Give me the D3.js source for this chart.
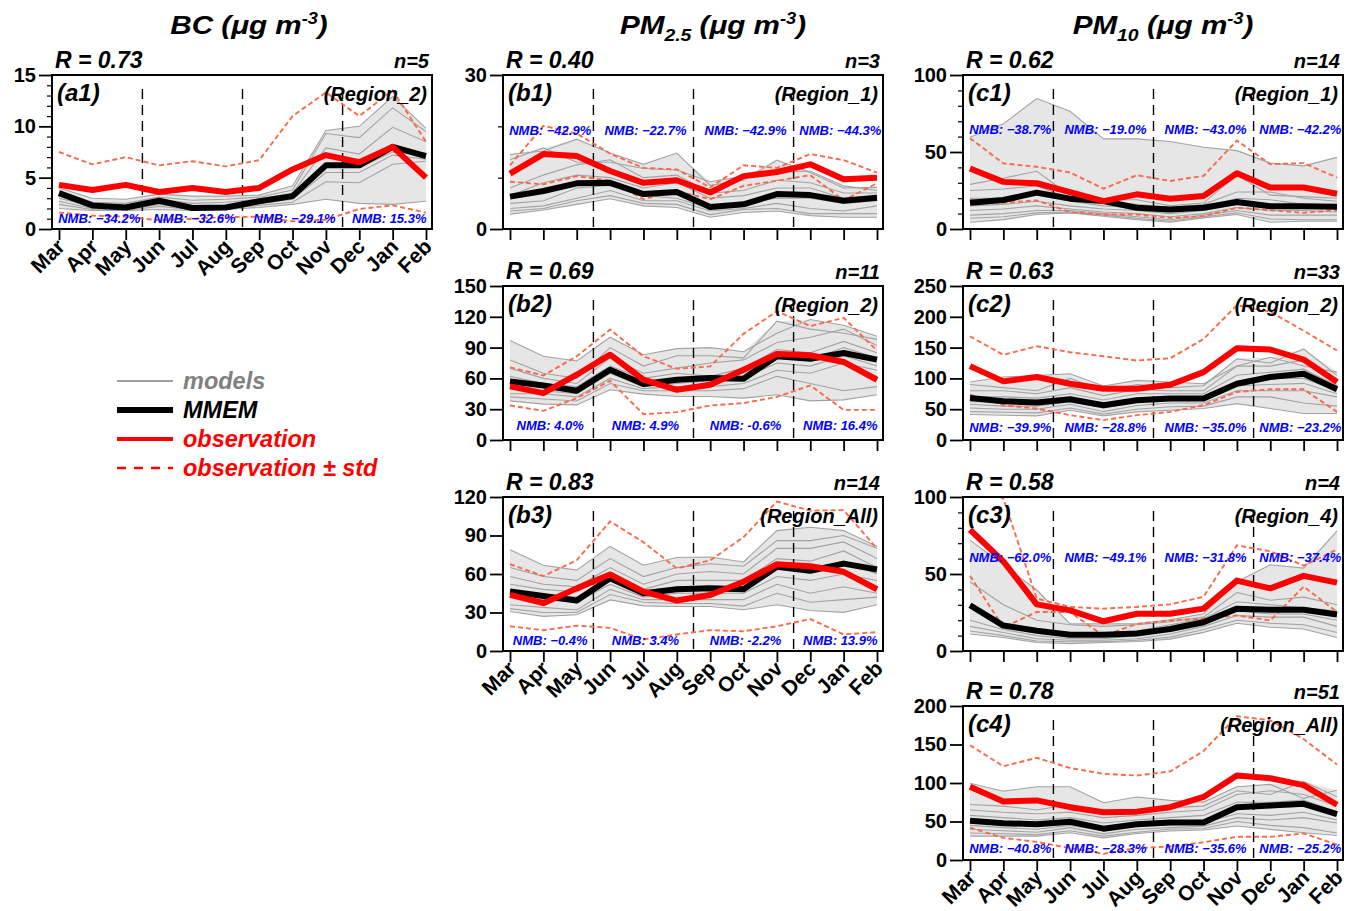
<!DOCTYPE html>
<html><head><meta charset="utf-8">
<script src="https://cdn.jsdelivr.net/npm/d3@7"></script>
<style>body{margin:0;background:#fff}svg{display:block}</style>
</head><body>
<svg id="chart" width="1354" height="911"></svg>
<script>
const months = ["Mar","Apr","May","Jun","Jul","Aug","Sep","Oct","Nov","Dec","Jan","Feb"];

// ---------- (a1) BC Region_2 ----------
const a1Obs  = [4.3,3.8,4.3,3.6,4.0,3.6,4.0,5.8,7.2,6.5,8.0,5.0];
const a1Up   = [7.5,6.3,7.0,6.2,6.6,6.1,6.7,11.0,13.3,11.0,13.5,8.5];
const a1Lo   = [1.6,1.3,1.2,0.85,1.0,1.15,1.2,0.75,0.9,1.95,2.3,1.6];
const a1Mmem = [3.5,2.3,2.1,2.75,2.05,2.1,2.7,3.2,6.2,6.2,8.0,7.1];
const a1Models = [
  [4.0,3.0,2.9,3.4,3.2,3.2,3.3,4.2,9.6,10.0,12.9,9.8],
  [3.7,2.6,2.5,3.1,2.8,2.9,3.1,3.8,9.3,8.9,11.8,9.5],
  [3.4,2.4,2.2,2.9,2.5,2.6,2.9,3.5,7.9,7.3,9.9,8.5],
  [3.0,2.2,2.0,2.6,2.2,2.3,2.6,3.2,6.2,6.0,7.5,7.4],
  [2.7,2.0,1.9,2.4,2.0,2.1,2.5,2.9,5.5,5.5,7.2,6.8],
  [2.4,1.9,1.8,2.2,1.9,2.0,2.3,2.6,4.6,4.5,6.3,6.6],
  [2.0,1.8,1.8,1.9,1.8,1.9,2.1,2.4,2.9,2.5,2.4,2.7]
];
const a1Nmb = ["NMB: \u221234.2%","NMB: \u221232.6%","NMB: \u221229.1%","NMB: 15.3%"];

// ---------- (b1) PM2.5 Region_1 ----------
const b1Obs  = [10.8,14.6,14.2,11.3,9.0,9.5,7.1,10.3,11.1,12.6,9.7,10.0];
const b1Up   = [12.4,20.1,18.6,14.7,11.9,11.6,8.1,12.4,11.9,14.6,13.4,11.0];
const b1Lo   = [9.2,8.7,10.3,9.4,5.8,7.4,5.8,8.4,9.4,10.5,5.6,8.9];
const b1Mmem = [6.3,7.4,8.9,9.0,6.8,7.2,4.3,4.8,6.8,6.6,5.5,6.1];
const b1Models = [
  [14.5,15.2,17.5,14.8,12.6,14.8,8.5,9.5,13.4,11.0,8.0,8.1],
  [13.5,15.8,13.0,13.0,11.8,11.5,9.2,10.3,11.0,11.3,8.4,7.5],
  [8.0,10.5,12.5,13.5,10.0,10.5,7.0,7.5,9.5,9.0,7.0,7.0],
  [6.5,9.0,10.5,10.0,8.0,9.0,6.0,6.5,8.0,8.0,6.0,6.5],
  [5.0,5.5,8.0,8.5,6.5,6.0,4.0,5.0,6.0,6.0,5.0,5.5],
  [4.0,4.5,6.0,7.5,5.5,5.5,3.5,4.0,5.0,4.0,3.5,4.5],
  [3.5,4.0,5.5,6.5,5.0,4.8,2.8,3.8,4.0,3.0,3.0,3.0],
  [2.9,3.7,4.8,5.9,4.5,4.2,2.3,3.2,3.5,2.6,2.3,2.3]
];
const b1Nmb = ["NMB: \u221242.9%","NMB: \u221222.7%","NMB: \u221242.9%","NMB: \u221244.3%"];

// ---------- (b2) PM2.5 Region_2 ----------
const b2Obs  = [52.2,45.6,63.6,83.1,58.7,48.9,53.8,68.5,83.8,82.5,76.0,58.7];
const b2Up   = [70.8,62.9,81.5,107.6,81.5,69.4,71.7,103.4,125.5,110.9,119.0,87.1];
const b2Lo   = [33.6,28.4,40.8,57.7,25.1,27.1,33.6,35.9,42.0,53.1,29.3,29.3];
const b2Mmem = [57.1,53.1,47.9,68.5,54.5,58.7,60.3,59.7,81.5,79.2,84.8,78.3];
const b2Models = [
  [96.8,81.5,77.0,100.1,83.0,89.0,90.0,86.0,104.0,117.4,111.8,101.0],
  [78.0,65.0,60.0,90.0,72.0,82.0,82.0,80.0,115.7,108.0,104.0,98.0],
  [70.0,60.0,55.0,80.0,65.0,70.0,75.0,78.0,95.0,100.0,108.0,92.0],
  [62.0,55.0,52.0,72.0,60.0,65.0,62.0,70.0,88.0,85.0,96.0,85.0],
  [55.0,52.0,48.0,68.0,56.0,60.0,60.0,65.0,80.0,78.0,90.0,80.0],
  [50.0,48.0,45.0,65.0,52.0,55.0,58.0,60.0,75.0,72.0,82.0,72.0],
  [45.0,45.0,42.0,60.0,50.0,52.0,52.0,55.0,68.0,65.0,75.0,68.0],
  [42.0,40.0,38.0,55.0,48.0,48.0,48.0,50.0,62.0,55.0,48.0,52.0],
  [38.1,34.9,34.2,48.9,44.7,42.4,42.4,40.8,44.0,38.1,39.1,44.0]
];
const b2Nmb = ["NMB: 4.0%","NMB: 4.9%","NMB: -0.6%","NMB: 16.4%"];

// ---------- (b3) PM2.5 Region_All ----------
const b3Obs  = [43.7,37.3,48.8,59.6,46.3,39.3,43.7,54.0,67.6,66.1,61.7,48.1];
const b3Up   = [67.6,58.4,70.7,101.0,84.8,64.3,70.7,88.7,116.5,109.3,109.8,79.7];
const b3Lo   = [19.3,16.2,19.8,18.0,9.0,12.9,16.2,15.4,19.3,24.9,12.9,14.7];
const b3Mmem = [46.3,42.9,39.3,56.6,45.0,48.1,48.8,48.1,65.6,62.5,68.1,63.5];
const b3Models = [
  [78.9,66.8,63.0,81.5,66.8,72.8,73.3,69.4,93.8,96.4,93.8,81.5],
  [65.0,58.0,55.0,72.0,58.0,65.0,68.0,66.0,86.0,86.0,90.0,80.0],
  [58.0,52.0,50.0,65.0,52.0,60.0,62.0,60.0,80.0,80.0,85.0,72.0],
  [52.0,48.0,46.0,60.0,48.0,55.0,55.0,55.0,72.0,70.0,78.0,65.0],
  [46.0,44.0,42.0,56.0,45.0,50.0,50.0,50.0,65.0,62.0,70.0,60.0],
  [42.0,40.0,38.0,52.0,42.0,45.0,45.0,45.0,58.0,55.0,60.0,55.0],
  [36.0,34.0,32.0,48.0,40.0,40.0,40.0,40.0,52.0,45.0,50.0,45.0],
  [33.0,30.0,30.0,44.0,38.0,37.0,37.0,35.0,45.0,38.0,40.0,42.0],
  [30.8,27.0,28.3,39.8,35.2,34.7,34.7,32.1,36.0,31.6,30.1,36.0]
];
const b3Nmb = ["NMB: \u22120.4%","NMB: 3.4%","NMB: -2.2%","NMB: 13.9%"];

// ---------- (c1) PM10 Region_1 ----------
const c1Obs  = [39.3,30.6,29.7,24.0,18.1,22.5,19.7,21.4,36.2,26.9,26.9,22.9];
const c1Up   = [59.0,42.6,40.4,36.7,26.2,34.9,31.2,34.5,57.4,42.1,42.8,33.4];
const c1Lo   = [18.8,17.0,18.6,10.9,9.4,9.4,7.2,8.3,13.8,12.2,10.5,12.2];
const c1Mmem = [17.0,18.8,23.6,19.7,18.1,13.8,12.7,13.8,17.5,14.8,14.8,14.4];
const c1Models = [
  [59.6,68.3,84.7,76.4,58.5,58.5,56.8,53.1,50.9,42.8,41.0,46.5],
  [29.0,33.0,37.5,22.0,19.0,19.0,15.0,17.0,35.0,22.0,21.0,20.0],
  [25.0,26.0,28.0,20.0,17.0,16.0,14.0,16.0,24.0,24.0,20.0,18.0],
  [20.0,20.0,22.0,18.0,15.0,14.0,12.0,14.0,20.0,19.0,16.0,15.0],
  [15.0,16.0,18.0,15.0,13.0,12.0,10.0,12.0,16.0,15.0,14.0,13.0],
  [12.0,13.0,15.0,13.0,11.0,10.0,8.0,10.0,14.0,12.0,12.0,11.0],
  [9.0,10.0,12.0,12.0,10.0,8.0,6.0,9.0,12.0,9.0,9.0,9.0],
  [7.0,8.0,10.5,11.0,9.0,7.0,5.0,8.0,10.5,6.5,6.0,6.0],
  [4.4,6.1,9.4,10.5,8.3,6.1,4.4,7.2,9.4,4.4,5.0,5.0]
];
const c1Nmb = ["NMB: \u221238.7%","NMB: \u221219.0%","NMB: \u221243.0%","NMB: \u221242.2%"];

// ---------- (c2) PM10 Region_2 ----------
const c2Obs  = [119.9,95.2,102.2,91.4,83.3,83.3,89.8,110.2,148.9,146.8,130.6,94.1];
const c2Up   = [168.3,138.2,152.2,142.5,136.0,129.0,132.8,164.0,218.8,208.1,177.4,145.2];
const c2Lo   = [73.7,56.5,51.1,40.3,32.3,40.3,45.7,56.5,78.0,82.3,82.3,45.7];
const c2Mmem = [68.3,62.9,60.8,66.1,56.5,64.5,67.2,67.2,91.4,102.2,107.5,82.3];
const c2Models = [
  [94.1,102.2,104.8,107.5,87.6,96.8,94.1,91.4,120.0,134.4,120.0,110.2],
  [90.0,85.0,80.0,100.0,80.0,90.0,85.0,88.0,131.7,125.0,147.8,105.0],
  [80.0,80.0,75.0,85.0,72.0,82.0,80.0,80.0,120.0,120.0,130.0,95.0],
  [70.0,70.0,68.0,75.0,65.0,75.0,75.0,75.0,105.0,110.0,115.0,88.0],
  [62.0,62.0,60.0,68.0,58.0,68.0,70.0,70.0,95.0,100.0,100.0,80.0],
  [58.0,55.0,55.0,62.0,52.0,62.0,65.0,65.0,88.0,90.0,92.0,75.0],
  [52.0,50.0,50.0,58.0,46.0,56.0,60.0,60.0,80.0,80.0,80.0,70.0],
  [46.0,45.0,44.0,52.0,42.0,50.0,54.0,55.0,70.0,70.0,60.0,55.0],
  [41.4,40.3,39.2,48.4,39.2,45.7,48.4,51.1,59.1,51.1,43.0,43.0]
];
const c2Nmb = ["NMB: \u221239.9%","NMB: \u221228.8%","NMB: \u221235.0%","NMB: \u221223.2%"];

// ---------- (c3) PM10 Region_4 ----------
const c3Obs  = [78.7,58.2,30.3,26.4,19.3,24.2,24.2,27.5,45.7,40.7,48.8,44.4];
const c3Up   = [108.0,99.0,34.1,28.6,27.5,28.6,30.3,35.2,68.6,64.8,55.4,65.9];
const c3Lo   = [48.8,15.4,25.3,25.3,9.9,17.6,19.8,20.9,23.1,19.8,41.8,25.3];
const c3Mmem = [29.7,16.5,13.2,10.5,10.5,11.4,14.3,18.7,27.5,26.8,26.8,23.7];
const c3Models = [
  [72.0,56.0,39.6,17.6,17.6,17.6,20.2,24.2,45.0,56.0,53.8,78.0],
  [45.0,30.0,20.0,17.0,16.0,17.0,19.0,22.0,38.0,33.0,35.0,30.0],
  [30.0,17.0,14.0,12.0,11.0,13.0,17.0,21.0,32.0,30.0,28.0,26.0],
  [20.0,14.0,10.0,8.0,8.0,10.0,14.0,19.0,26.0,24.0,24.0,20.0],
  [16.0,12.0,8.0,7.0,7.0,8.0,11.0,16.0,23.0,22.0,22.0,16.0],
  [13.0,10.0,6.5,6.0,6.0,7.0,9.0,14.0,20.0,18.0,17.0,12.0],
  [11.0,8.8,5.5,4.8,5.5,6.2,7.7,12.1,18.0,15.4,14.3,8.8]
];
const c3Nmb = ["NMB: \u221262.0%","NMB: \u221249.1%","NMB: \u221231.8%","NMB: \u221237.4%"];

// ---------- (c4) PM10 Region_All ----------
const c4Obs  = [95.1,76.1,77.4,68.6,61.9,62.8,68.6,81.9,109.7,106.2,97.3,71.7];
const c4Up   = [149.1,121.7,132.7,119.5,111.9,109.7,115.0,141.6,186.7,181.4,157.1,123.9];
const c4Lo   = [42.0,28.8,23.5,15.5,8.0,15.5,17.7,23.0,30.1,30.1,34.5,19.9];
const c4Mmem = [50.9,47.8,46.5,49.6,40.7,46.5,48.7,48.7,68.6,70.8,73.0,59.7];
const c4Models = [
  [99.6,89.4,95.1,95.1,74.3,81.9,77.4,75.2,95.1,98.2,80.0,90.7],
  [72.0,70.0,65.0,72.0,60.0,65.0,68.0,70.0,90.0,85.0,101.8,82.0],
  [65.0,62.0,60.0,62.0,55.0,58.0,62.0,65.0,85.0,90.0,85.0,70.0],
  [58.0,55.0,52.0,55.0,48.0,52.0,55.0,58.0,75.0,75.0,78.0,62.0],
  [50.0,48.0,45.0,50.0,42.0,48.0,50.0,52.0,68.0,68.0,70.0,58.0],
  [45.0,42.0,40.0,45.0,38.0,44.0,46.0,48.0,60.0,58.0,62.0,52.0],
  [40.0,38.0,36.0,42.0,34.0,40.0,42.0,44.0,55.0,52.0,55.0,48.0],
  [35.0,34.0,33.0,38.0,31.0,36.0,40.0,41.0,50.0,45.0,42.0,35.0],
  [31.0,31.0,31.0,35.4,28.8,34.5,37.6,38.9,44.2,39.8,35.4,31.9]
];
const c4Nmb = ["NMB: \u221240.8%","NMB: \u221228.3%","NMB: \u221235.6%","NMB: \u221225.2%"];

const legendLabels = ["models","MMEM","observation","observation \u00b1 std"];

// ---------- layout & style ----------
const FONT = "'Liberation Sans', Arial, Helvetica, sans-serif";
const PW = 380, PH = 154;
const colLeft = [52, 503, 963];
const rowTop = [75, 286, 497, 706];
const C_FILL = "#e6e6e6", C_MODEL = "#a3a3a3", C_STD = "#fa6a4a", C_OBS = "#ff0000", C_NMB = "#0000ff";

const panels = [
  {key:"a1", col:0,row:0, max:15,  major:5,  minor:1,  R:"0.73", n:"5",  region:"Region_2",   obs:a1Obs, up:a1Up, lo:a1Lo, mmem:a1Mmem, models:a1Models, nmb:a1Nmb, nmbY:143, showMonths:true},
  {key:"b1", col:1,row:0, max:30,  major:30, minor:10, R:"0.40", n:"3",  region:"Region_1",   obs:b1Obs, up:b1Up, lo:b1Lo, mmem:b1Mmem, models:b1Models, nmb:b1Nmb, nmbY:55},
  {key:"b2", col:1,row:1, max:150, major:30, minor:null, R:"0.69", n:"11", region:"Region_2", obs:b2Obs, up:b2Up, lo:b2Lo, mmem:b2Mmem, models:b2Models, nmb:b2Nmb, nmbY:139},
  {key:"b3", col:1,row:2, max:120, major:30, minor:null, R:"0.83", n:"14", region:"Region_All", obs:b3Obs, up:b3Up, lo:b3Lo, mmem:b3Mmem, models:b3Models, nmb:b3Nmb, nmbY:143, showMonths:true},
  {key:"c1", col:2,row:0, max:100, major:50, minor:10, R:"0.62", n:"14", region:"Region_1",   obs:c1Obs, up:c1Up, lo:c1Lo, mmem:c1Mmem, models:c1Models, nmb:c1Nmb, nmbY:54},
  {key:"c2", col:2,row:1, max:250, major:50, minor:null, R:"0.63", n:"33", region:"Region_2", obs:c2Obs, up:c2Up, lo:c2Lo, mmem:c2Mmem, models:c2Models, nmb:c2Nmb, nmbY:141},
  {key:"c3", col:2,row:2, max:100, major:50, minor:10, R:"0.58", n:"4",  region:"Region_4",   obs:c3Obs, up:c3Up, lo:c3Lo, mmem:c3Mmem, models:c3Models, nmb:c3Nmb, nmbY:60},
  {key:"c4", col:2,row:3, max:200, major:50, minor:null, R:"0.78", n:"51", region:"Region_All", obs:c4Obs, up:c4Up, lo:c4Lo, mmem:c4Mmem, models:c4Models, nmb:c4Nmb, nmbY:142, showMonths:true}
];

const svg = d3.select("#chart");
const defs = svg.append("defs");

function addText(parent, x, y, str, o) {
  let tr = `translate(${x},${y})`;
  if (o.rotate) tr += ` rotate(${o.rotate})`;
  if (o.sx) tr += ` scale(${o.sx},1)`;
  return parent.append("text")
    .attr("transform", tr)
    .attr("font-family", FONT)
    .attr("font-size", o.size)
    .attr("font-weight", o.weight || "bold")
    .attr("font-style", o.italic === false ? "normal" : "italic")
    .attr("text-anchor", o.anchor || "start")
    .attr("fill", o.color || "#000")
    .text(str);
}

// ---------- column titles ----------
function title(x, main, sub) {
  const t = addText(svg, x, 34, "", {size:26, anchor:"middle", sx:1.14});
  t.append("tspan").text(main);
  if (sub) {
    t.append("tspan").attr("font-size", 17).attr("dy", 7).text(sub);
    t.append("tspan").attr("dy", -7).text(" (\u03bcg m");
  } else {
    t.append("tspan").text(" (\u03bcg m");
  }
  t.append("tspan").attr("font-size", 16).attr("dy", -10).text("-3");
  t.append("tspan").attr("dy", 10).text(")");
}
title(249, "BC", null);
title(713, "PM", "2.5");
title(1163, "PM", "10");

// ---------- panels ----------
panels.forEach(p => {
  const left = colLeft[p.col], top = rowTop[p.row];
  const right = left + PW, bottom = top + PH;
  const x = d3.scalePoint().domain(months).range([left + 7, right - 6]);
  const y = d3.scaleLinear().domain([0, p.max]).range([bottom, top]);
  const g = svg.append("g").attr("class", "panel-" + p.key);

  defs.append("clipPath").attr("id", "clip-" + p.key)
    .append("rect").attr("x", left).attr("y", top).attr("width", PW).attr("height", PH);
  const plot = g.append("g").attr("clip-path", `url(#clip-${p.key})`);

  const line = d3.line().x((d, i) => x(months[i])).y(d => y(d));
  const envMax = months.map((m, i) => d3.max(p.models, s => s[i]));
  const envMin = months.map((m, i) => d3.min(p.models, s => s[i]));
  const area = d3.area().x((d, i) => x(months[i])).y0((d, i) => y(envMin[i])).y1((d, i) => y(envMax[i]));

  plot.append("path").datum(months).attr("d", area).attr("fill", C_FILL);
  plot.selectAll("path.model").data(p.models).join("path").attr("class", "model")
    .attr("d", line).attr("fill", "none").attr("stroke", C_MODEL).attr("stroke-width", 1.1);

  // season separators
  [[2,3],[5,6],[8,9]].forEach(([a, b]) => {
    const xm = (x(months[a]) + x(months[b])) / 2;
    plot.append("line").attr("x1", xm).attr("x2", xm).attr("y1", top + 14).attr("y2", bottom)
      .attr("stroke", "#000").attr("stroke-width", 1.4).attr("stroke-dasharray", "10,6");
  });

  [p.up, p.lo].forEach(s => {
    plot.append("path").datum(s).attr("d", line).attr("fill", "none")
      .attr("stroke", C_STD).attr("stroke-width", 1.9).attr("stroke-dasharray", "5,3");
  });
  plot.append("path").datum(p.mmem).attr("d", line).attr("fill", "none")
    .attr("stroke", "#000").attr("stroke-width", 6).attr("stroke-linejoin", "round");
  plot.append("path").datum(p.obs).attr("d", line).attr("fill", "none")
    .attr("stroke", C_OBS).attr("stroke-width", 6).attr("stroke-linejoin", "round");

  // NMB labels centred in each season block
  const bounds = [left, (x(months[2])+x(months[3]))/2, (x(months[5])+x(months[6]))/2, (x(months[8])+x(months[9]))/2, right];
  p.nmb.forEach((s, i) => {
    addText(g, (bounds[i] + bounds[i+1]) / 2 + 2, top + p.nmbY + 4.5, s, {size:13, anchor:"middle", color:C_NMB});
  });

  // frame
  g.append("rect").attr("x", left).attr("y", top).attr("width", PW).attr("height", PH)
    .attr("fill", "none").attr("stroke", "#000").attr("stroke-width", 2);

  // y axis
  const yAx = g.append("g").attr("transform", `translate(${left},0)`)
    .call(d3.axisLeft(y).tickValues(d3.range(0, p.max + 1e-9, p.major)).tickSize(13).tickPadding(3).tickFormat(d3.format("d")));
  yAx.select(".domain").remove();
  yAx.selectAll("line").attr("stroke-width", 1.8);
  yAx.selectAll("text").attr("font-family", FONT).attr("font-size", 20).attr("font-weight", "bold").attr("fill", "#000");
  if (p.minor) {
    const mv = d3.range(0, p.max + 1e-9, p.minor).filter(v => Math.abs(v / p.major - Math.round(v / p.major)) > 1e-6);
    const mAx = g.append("g").attr("transform", `translate(${left},0)`)
      .call(d3.axisLeft(y).tickValues(mv).tickSize(5).tickFormat(""));
    mAx.select(".domain").remove();
    mAx.selectAll("line").attr("stroke-width", 1.2);
  }

  // x axis
  const xAx = g.append("g").attr("transform", `translate(0,${bottom})`)
    .call(d3.axisBottom(x).tickSize(11).tickFormat(""));
  xAx.select(".domain").remove();
  xAx.selectAll("line").attr("stroke-width", 1.8);
  if (p.showMonths) {
    months.forEach(m => addText(g, x(m) + 7, bottom + 19, m, {size:21, anchor:"end", italic:false, rotate:-45}));
  }

  // labels
  addText(g, left + 3, top - 7, "R = " + p.R, {size:23});
  addText(g, right - 3, top - 7, "n=" + p.n, {size:20, anchor:"end"});
  addText(g, left + 5, top + 26, "(" + p.key + ")", {size:24});
  addText(g, right - 5, top + 26, "(" + p.region + ")", {size:20, anchor:"end"});
});

// ---------- legend ----------
const legendStyles = [
  {stroke:"#808080", w:1.3, dash:null, color:"#808080"},
  {stroke:"#000", w:6, dash:null, color:"#000"},
  {stroke:C_OBS, w:4, dash:null, color:C_OBS},
  {stroke:C_OBS, w:2.6, dash:"9,8", color:C_OBS}
];
legendLabels.forEach((lab, i) => {
  const ly = 381 + i * 29, st = legendStyles[i];
  svg.append("line").attr("x1", 117).attr("x2", 173).attr("y1", ly).attr("y2", ly)
    .attr("stroke", st.stroke).attr("stroke-width", st.w).attr("stroke-dasharray", st.dash);
  addText(svg, 183, ly + 8, lab, {size:23.5, color:st.color});
});
</script>
</body></html>
